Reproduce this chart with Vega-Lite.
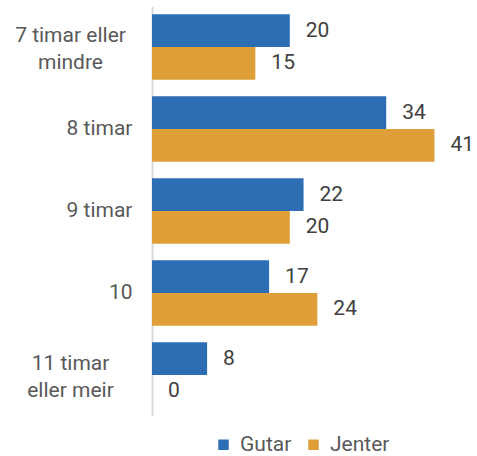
{
  "$schema": "https://vega.github.io/schema/vega-lite/v6.json",
  "width": 310,
  "height": 410,
  "autosize": "none",
  "padding": {"left": 152, "top": 6, "right": 15, "bottom": 40},
  "config": {"view": {"stroke": null}, "font": "Roboto"},
  "data": {"values": [
    {"category": "7 timar eller mindre", "group": "Gutar", "value": 20},
    {"category": "7 timar eller mindre", "group": "Jenter", "value": 15},
    {"category": "8 timar", "group": "Gutar", "value": 34},
    {"category": "8 timar", "group": "Jenter", "value": 41},
    {"category": "9 timar", "group": "Gutar", "value": 22},
    {"category": "9 timar", "group": "Jenter", "value": 20},
    {"category": "10", "group": "Gutar", "value": 17},
    {"category": "10", "group": "Jenter", "value": 24},
    {"category": "11 timar eller meir", "group": "Gutar", "value": 8},
    {"category": "11 timar eller meir", "group": "Jenter", "value": 0}
  ]},
  "encoding": {
    "y": {
      "field": "category", "type": "nominal",
      "sort": ["7 timar eller mindre", "8 timar", "9 timar", "10", "11 timar eller meir"],
      "scale": {"paddingInner": 0.2, "paddingOuter": 0.1},
      "axis": {
        "title": null, "ticks": false, "domainColor": "#d9d9d9", "domainWidth": 2,
        "labelFontSize": 21, "labelColor": "#595959", "labelLineHeight": 27,
        "labelExpr": "datum.value == '7 timar eller mindre' ? ['7 timar eller', 'mindre'] : datum.value == '11 timar eller meir' ? ['11 timar', 'eller meir'] : datum.value",
        "labelAlign": {"expr": "length(datum.value) > 10 ? 'center' : 'right'"},
        "labelPadding": {"expr": "length(datum.value) > 10 ? 82 : 20"},
        "labelOffset": {"expr": "length(datum.value) > 10 ? -11 : 0"}
      }
    },
    "yOffset": {"field": "group", "type": "nominal", "sort": ["Gutar", "Jenter"]},
    "x": {"field": "value", "type": "quantitative", "scale": {"domain": [0, 45]}, "axis": null}
  },
  "layer": [
    {
      "mark": {"type": "bar"},
      "encoding": {
        "color": {
          "field": "group", "type": "nominal",
          "scale": {"domain": ["Gutar", "Jenter"], "range": ["#2d6db4", "#de9e38"]},
          "legend": {
            "title": null, "orient": "none", "legendX": 61, "legendY": 428, "direction": "horizontal",
            "symbolType": "square", "symbolSize": 110, "labelFontSize": 21,
            "labelColor": "#595959", "columnPadding": 11, "labelOffset": 6
          }
        }
      }
    },
    {
      "mark": {"type": "text", "align": "left", "baseline": "middle", "dx": 16, "fontSize": 21, "color": "#404040"},
      "encoding": {"text": {"field": "value", "type": "quantitative"}}
    }
  ]
}
